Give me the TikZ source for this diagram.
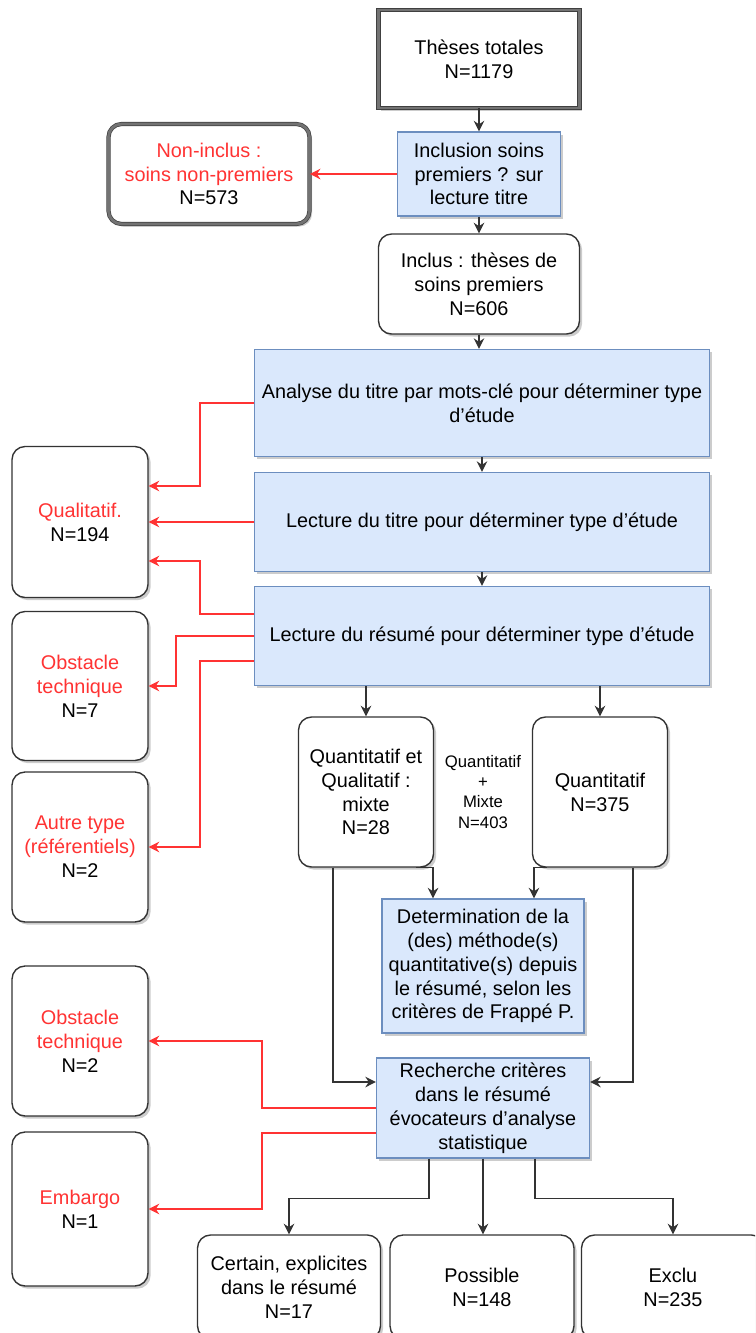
\documentclass[tikz,border=0pt]{standalone}
\usepackage{fontspec}
\setmainfont{Liberation Sans}
\usetikzlibrary{arrows.meta,shadows}

\definecolor{bleufond}{HTML}{DAE8FC}
\definecolor{bleutrait}{HTML}{6C8EBF}
\definecolor{rouge}{HTML}{FF3333}
\definecolor{gristrait}{HTML}{333333}

\begin{document}
\begin{tikzpicture}[x = 0.02cm, y = -0.02cm,
    font = \fontsize{11.3}{13.6}\selectfont,
    ombre/.style = {drop shadow = {shadow xshift = 1.5pt, shadow yshift = -1.5pt, opacity = 0.2, fill = black}},
    etape/.style = {rectangle, draw = bleutrait, fill = bleufond, line width = 0.7pt, align = center, inner sep = 1pt, ombre},
    issue/.style = {rectangle, rounded corners = 0.26cm, draw = gristrait, fill = white, line width = 0.8pt, align = center, inner sep = 1pt, ombre},
    cadre/.style = {rectangle, draw = black!75, double = black!55, double distance = 1.6pt, line width = 0.4pt, fill = white, align = center, ombre},
    fleche/.style = {-{Stealth[length = 6pt, width = 6pt]}, draw = gristrait, line width = 0.9pt},
    rejet/.style = {fleche, draw = rouge, line width = 1.4pt}
  ]
    \useasboundingbox (0,0) rectangle (755,1333);
    \clip (0,0) rectangle (755,1333);

    % colonne principale
    \node[cadre, minimum width = 4.02cm, minimum height = 1.96cm] (these) at (479,59) {Thèses totales\\N=1179};
    \node[etape, minimum width = 3.26cm, minimum height = 1.68cm] (inclusion) at (479,174) {Inclusion soins\\premiers ? sur\\lecture titre};
    \node[cadre, rounded corners = 0.26cm, minimum width = 4.02cm, minimum height = 2cm] (noninclus) at (209,174)
      {\textcolor{rouge}{Non-inclus :}\\\textcolor{rouge}{soins non-premiers}\\N=573};
    \node[issue, minimum width = 4.02cm, minimum height = 2cm] (inclus) at (479,284) {Inclus : thèses de\\soins premiers\\N=606};
    \node[etape, minimum width = 9.1cm, minimum height = 2.14cm] (analyse) at (482,403) {Analyse du titre par mots-clé pour déterminer type\\d'étude};
    \node[etape, minimum width = 9.1cm, minimum height = 1.98cm] (lectitre) at (482,522) {Lecture du titre pour déterminer type d'étude};
    \node[etape, minimum width = 9.1cm, minimum height = 1.98cm] (lecresume) at (482,636) {Lecture du résumé pour déterminer type d'étude};

    % exclusions a gauche
    \node[issue, minimum width = 2.72cm, minimum height = 3.02cm] (qualitatif) at (80,522) {\textcolor{rouge}{Qualitatif.}\\N=194};
    \node[issue, minimum width = 2.72cm, minimum height = 2.98cm] (obstun) at (80,686) {\textcolor{rouge}{Obstacle}\\\textcolor{rouge}{technique}\\N=7};
    \node[issue, minimum width = 2.72cm, minimum height = 3cm] (autre) at (80,847) {\textcolor{rouge}{Autre type}\\\textcolor{rouge}{(référentiels)}\\N=2};
    \node[issue, minimum width = 2.72cm, minimum height = 3cm] (obstdeux) at (80,1041) {\textcolor{rouge}{Obstacle}\\\textcolor{rouge}{technique}\\N=2};
    \node[issue, minimum width = 2.72cm, minimum height = 3.08cm] (embargo) at (80,1209) {\textcolor{rouge}{Embargo}\\N=1};

    % types d'etude
    \node[issue, minimum width = 2.7cm, minimum height = 3cm] (mixte) at (366,792) {Quantitatif et\\Qualitatif :\\mixte\\N=28};
    \node[issue, minimum width = 2.7cm, minimum height = 3cm] (quanti) at (600,792) {Quantitatif\\N=375};
    \node[align = center, font = \fontsize{9.5}{11.4}\selectfont] (cumul) at (483,792) {Quantitatif\\+\\Mixte\\N=403};

    \node[etape, minimum width = 4.04cm, minimum height = 2.68cm] (determ) at (483,966)
      {Determination de la\\(des) méthode(s)\\quantitative(s) depuis\\le résumé, selon les\\critères de Frappé P.};
    \node[etape, minimum width = 4.26cm, minimum height = 2cm] (recherche) at (483,1108)
      {Recherche critères\\dans le résumé\\évocateurs d'analyse\\statistique};

    % resultats
    \node[issue, minimum width = 3.66cm, minimum height = 2.08cm] (certain) at (289,1287) {Certain, explicites\\dans le résumé\\N=17};
    \node[issue, minimum width = 3.68cm, minimum height = 2.08cm] (possible) at (482,1287) {Possible\\N=148};
    \node[issue, minimum width = 3.66cm, minimum height = 2.08cm] (exclu) at (673,1287) {Exclu\\N=235};

    % fleches noires
    \draw[fleche] (these) -- (inclusion);
    \draw[fleche] (inclusion) -- (inclus);
    \draw[fleche] (inclus.south) -- (inclus.south |- analyse.north);
    \draw[fleche] (analyse) -- (lectitre);
    \draw[fleche] (lectitre) -- (lecresume);
    \draw[fleche] (mixte.north |- lecresume.south) -- (mixte.north);
    \draw[fleche] (quanti.north |- lecresume.south) -- (quanti.north);
    \draw[fleche] ([xshift = 1cm]mixte.south) -| ([xshift = -1cm]determ.north);
    \draw[fleche] ([xshift = -1.06cm]quanti.south) -| ([xshift = 1.02cm]determ.north);
    \draw[fleche] ([xshift = -0.66cm]mixte.south) |- ([yshift = 0.52cm]recherche.west);
    \draw[fleche] ([xshift = 0.66cm]quanti.south) |- ([yshift = 0.52cm]recherche.east);
    \draw[fleche] ([xshift = -1.08cm]recherche.south) -- ++(0,40) -| (certain.north);
    \draw[fleche] (recherche.south) -- (recherche.south |- possible.north);
    \draw[fleche] ([xshift = 1.04cm]recherche.south) -- ++(0,40) -| (exclu.north);

    % fleches rouges
    \draw[rejet] (inclusion) -- (noninclus);
    \draw[rejet] (analyse.west) -- ++(-54,0) |- ([yshift = 0.72cm]qualitatif.east);
    \draw[rejet] (lectitre) -- (qualitatif);
    \draw[rejet] ([yshift = 0.44cm]lecresume.west) -- ++(-54,0) |- ([yshift = -0.78cm]qualitatif.east);
    \draw[rejet] (lecresume.west) -- ++(-78,0) |- (obstun.east);
    \draw[rejet] ([yshift = -0.5cm]lecresume.west) -- ++(-54,0) |- (autre.east);
    \draw[rejet] (recherche.west) -- ++(-114,0) |- (obstdeux.east);
    \draw[rejet] ([yshift = -0.5cm]recherche.west) -- ++(-114,0) |- (embargo.east);
\end{tikzpicture}
\end{document}
